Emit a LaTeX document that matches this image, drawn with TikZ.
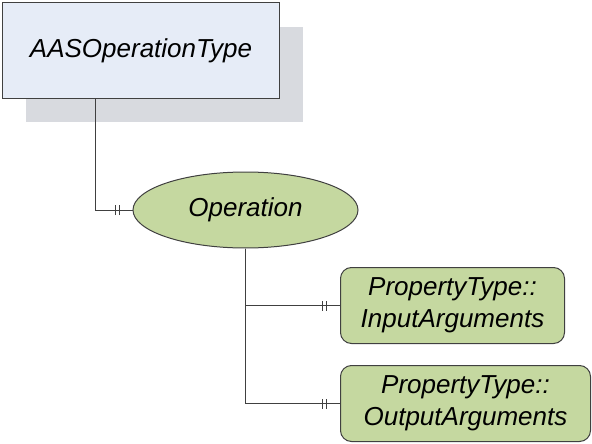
\documentclass[tikz,border=0pt]{standalone}
\usepackage{fontspec}
\setmainfont{Liberation Sans}
\usetikzlibrary{shapes.geometric}
\definecolor{clsblue}{HTML}{E6ECF7}
\definecolor{shadowgray}{HTML}{D8DADF}
\definecolor{objgreen}{HTML}{C5D8A0}
\definecolor{linegray}{HTML}{404040}
\tikzset{
  conn/.style={draw=linegray, line width=1pt},
  tick/.style={draw=linegray, line width=1pt},
  typebox/.style={draw=linegray, line width=1pt, fill=clsblue, inner sep=0pt, anchor=north west},
  objell/.style={ellipse, draw=linegray, line width=1pt, fill=objgreen, inner sep=0pt},
  propbox/.style={draw=linegray, line width=1pt, fill=objgreen, rounded corners=11pt, inner sep=0pt, anchor=north west, align=center}
}
\begin{document}
\begin{tikzpicture}[x=1pt, y=-1pt, font=\fontsize{26}{32}\selectfont\itshape]
\useasboundingbox (0,0) rectangle (592,444);
\fill[shadowgray] (26,27) rectangle (303,122);
\node[typebox, minimum width=277pt, minimum height=96pt] (aas) at (2,2) {AASOperationType};
\node[objell, minimum width=225pt, minimum height=76pt] (op) at (245.5,210) {Operation};
\node[propbox, minimum width=224pt, minimum height=76pt] (inb) at (340,267) {PropertyType::\\InputArguments};
\node[propbox, minimum width=250pt, minimum height=76pt] (outb) at (340,365) {PropertyType::\\OutputArguments};
% connectors
\draw[conn] ([xshift=93pt]aas.south west) |- (op.west);
\draw[conn] (op.south) |- (outb.west);
\draw[conn] (op.south |- inb.west) -- (inb.west);
% ticks
\foreach \n/\d in {op/17, op/13, inb/18, inb/14, outb/18, outb/14}{
  \draw[tick] ([xshift=-\d pt, yshift=-5pt]\n.west) -- ([xshift=-\d pt, yshift=5pt]\n.west);
}
\end{tikzpicture}
\end{document}
